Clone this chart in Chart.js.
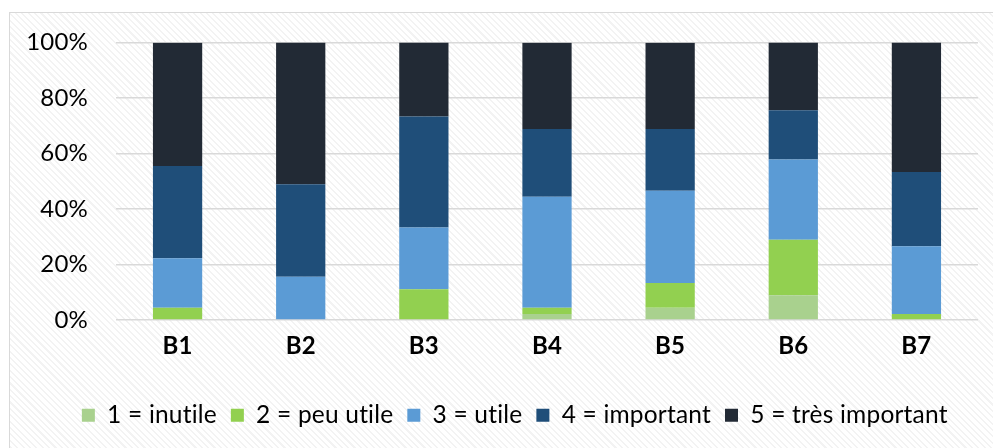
<!DOCTYPE html>
<html>
<head>
<meta charset="utf-8">
<script src="https://cdn.jsdelivr.net/npm/chart.js@4/dist/chart.umd.min.js"></script>
<style>
  html, body { margin: 0; padding: 0; background: #ffffff; }
  body { width: 993px; height: 448px; position: relative; overflow: hidden; }
  #frame {
    position: absolute; left: 9px; top: 12px; width: 1000px; height: 460px;
    border: 1.5px solid #d9d9d9; box-sizing: border-box;
    background: repeating-linear-gradient(45deg, #ffffff 0px, #ffffff 3px, #f3f3f3 3px, #f3f3f3 4.5px);
  }
  #wrap { position: absolute; left: 0; top: 0; width: 993px; height: 448px; }
</style>
</head>
<body>
<div id="frame"></div>
<div id="wrap"><canvas id="c" width="993" height="448"></canvas></div>
<script>
const categories = ['B1', 'B2', 'B3', 'B4', 'B5', 'B6', 'B7'];
const seriesNames = ['1 = inutile', '2 = peu utile', '3 = utile', '4 = important', '5 = très important'];
const inutile       = [0,    0,    0,    2.2,  4.4,  8.9,  0];
const peuUtile      = [4.4,  0,    11.1, 2.2,  8.9,  20.0, 2.2];
const utile         = [17.8, 15.6, 22.2, 40.0, 33.3, 28.9, 24.4];
const important     = [33.3, 33.3, 40.0, 24.4, 22.2, 17.8, 26.7];
const tresImportant = [44.4, 51.1, 26.7, 31.1, 31.1, 24.4, 46.7];
const yTicks = [0, 20, 40, 60, 80, 100];

const colors = ['#a9d18e', '#92d050', '#5b9bd5', '#1f4e79', '#222a35'];
const values = [inutile, peuUtile, utile, important, tresImportant];

const FONT = 'Lato, "Noto Sans", sans-serif';

const noLigatures = {
  id: 'noLigatures',
  beforeInit: chart => { if ('letterSpacing' in chart.ctx) chart.ctx.letterSpacing = '0.2px'; },
  beforeDraw: chart => { if ('letterSpacing' in chart.ctx) chart.ctx.letterSpacing = '0.2px'; }
};

const legendShift = {
  id: 'legendShift',
  afterLayout: chart => { if (chart.legend) { chart.legend.left += 40; } }
};

new Chart(document.getElementById('c'), {
  type: 'bar',
  plugins: [noLigatures, legendShift],
  data: {
    labels: categories,
    datasets: values.map((v, i) => ({
      label: seriesNames[i],
      data: v,
      backgroundColor: colors[i],
      borderWidth: 0,
      barPercentage: 0.4,
      categoryPercentage: 1.0
    }))
  },
  options: {
    responsive: false,
    animation: false,
    layout: { padding: { top: 42, left: 0, right: 15, bottom: 10.5 } },
    plugins: {
      tooltip: { enabled: false },
      legend: {
        position: 'bottom',
        labels: {
          boxWidth: 13, boxHeight: 13, padding: 14,
          color: '#000000',
          font: { family: FONT, size: 24.5 }
        }
      }
    },
    scales: {
      x: {
        stacked: true,
        grid: { display: false, drawTicks: false },
        border: { display: false },
        ticks: { color: '#000000', padding: 12, font: { family: FONT, size: 24, weight: 'bold' } },
        afterFit: s => { s.height = 69; }
      },
      y: {
        stacked: true,
        min: 0, max: 100,
        afterBuildTicks: s => { s.ticks = yTicks.map(v => ({ value: v })); },
        grid: { color: '#d9d9d9', lineWidth: 1.5, drawTicks: false },
        border: { display: false },
        ticks: {
          color: '#000000', padding: 28,
          font: { family: FONT, size: 24 },
          callback: v => v + '%'
        },
        afterFit: s => { s.width = 116; }
      }
    }
  }
});
</script>
</body>
</html>
